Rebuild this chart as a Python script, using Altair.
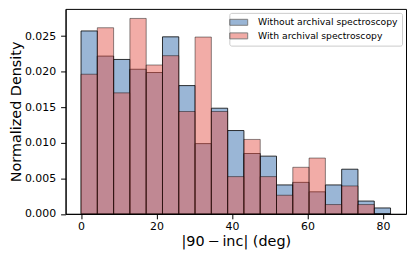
import altair as alt
import numpy as np
import pandas as pd

# Histogram bin edges (0 to 82 deg, 19 bins)
bin_edges = [float(v) for v in np.linspace(0, 82, 20)]

series_names = ["Without archival spectroscopy", "With archival spectroscopy"]

without_spec = [0.02573, 0.02219, 0.02172, 0.02034, 0.01988, 0.02490, 0.01804,
                0.00988, 0.01486, 0.01172, 0.00849, 0.00812, 0.00407, 0.00443,
                0.00310, 0.00407, 0.00628, 0.00180, 0.00083]
with_spec = [0.01964, 0.02618, 0.01702, 0.02749, 0.02094, 0.02225, 0.01440,
             0.02487, 0.01440, 0.00524, 0.01047, 0.00524, 0.00262, 0.00655,
             0.00785, 0.00131, 0.00393, 0.00131, 0.0]

x_ticks = [0, 20, 40, 60, 80]
y_ticks = [0.0, 0.005, 0.010, 0.015, 0.020, 0.025]

rows = []
for name, vals in zip(series_names, [without_spec, with_spec]):
    for i, v in enumerate(vals):
        rows.append({"series": name, "lo": bin_edges[i], "hi": bin_edges[i + 1], "density": v})
df = pd.DataFrame(rows)

color = alt.Color(
    "series:N",
    scale=alt.Scale(domain=series_names, range=["#356dad", "#e5594f"]),
    legend=alt.Legend(
        title=None,
        orient="top-right",
        offset=4,
        symbolType="M-1.8,-0.6L1.8,-0.6L1.8,0.6L-1.8,0.6Z",
        symbolSize=100,
        symbolStrokeColor="black",
        symbolStrokeWidth=1,
        symbolOpacity=0.5,
        labelFontSize=9.3,
        labelFont="DejaVu Sans",
        labelColor="black",
        labelOffset=14,
        padding=4,
        rowPadding=2.7,
        fillColor="white",
        strokeColor="#cccccc",
        cornerRadius=2,
    ),
)

base = alt.Chart(df).encode(
    x=alt.X(
        "lo:Q",
        scale=alt.Scale(domain=[-4.1, 86.1], nice=False, zero=False),
        axis=alt.Axis(values=x_ticks, title="|90\u2009\u2212\u2009inc| (deg)",
                      tickSize=5, labelPadding=2, titlePadding=3),
    ),
    x2="hi:Q",
    y=alt.Y(
        "density:Q",
        scale=alt.Scale(domain=[0, 0.02883], nice=False),
        axis=alt.Axis(values=y_ticks, format=".3f", title="Normalized Density",
                      tickSize=5, labelPadding=5, titlePadding=1),
    ),
    y2=alt.datum(0),
    color=color,
)

blue = base.transform_filter(alt.datum.series == series_names[0]).mark_bar(
    fillOpacity=0.5, stroke="black", strokeOpacity=0.8, strokeWidth=1
)
red = base.transform_filter(alt.datum.series == series_names[1]).mark_bar(
    fillOpacity=0.5, stroke="black", strokeOpacity=0.45, strokeWidth=1
)

chart = (
    alt.layer(blue, red)
    .properties(width=343, height=206.5, padding={"left": 0, "top": 0, "right": 2, "bottom": 0})
    .configure_view(stroke="black", strokeWidth=1)
    .configure_axis(
        grid=False,
        domainColor="black",
        tickColor="black",
        labelColor="black",
        titleColor="black",
        labelFont="DejaVu Sans",
        titleFont="DejaVu Sans",
        titleFontWeight="normal",
        labelFontSize=11,
        titleFontSize=14.5,
    )
)

chart.save("out.html", embed_options={"renderer": "svg", "actions": False})
